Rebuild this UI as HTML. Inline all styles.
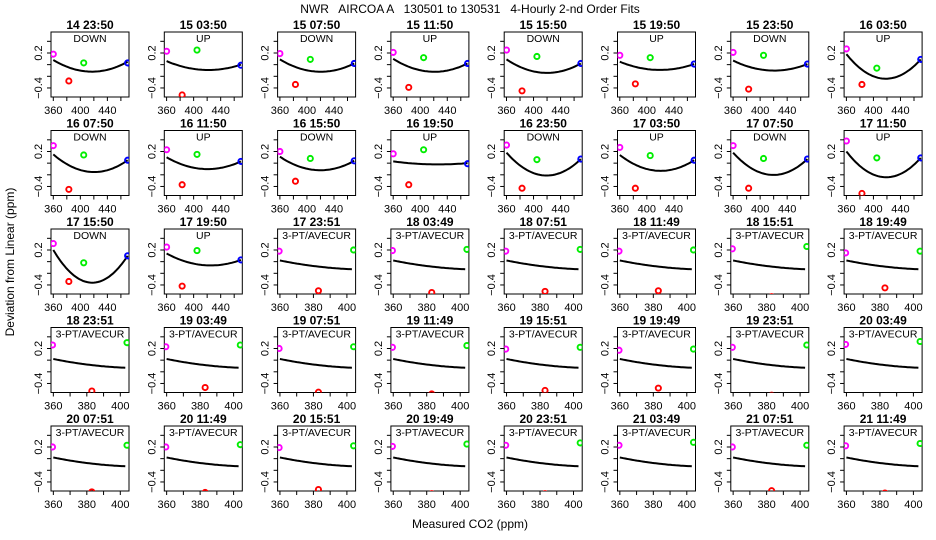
<!DOCTYPE html>
<html><head><meta charset="utf-8"><style>
html,body{margin:0;padding:0;background:#fff;}
svg{display:block;font-family:"Liberation Sans",sans-serif;}
</style></head><body>
<svg id="chart" width="936" height="540" viewBox="0 0 936 540" xmlns="http://www.w3.org/2000/svg">
<text x="470" y="13" font-size="12" text-anchor="middle" xml:space="preserve">NWR   AIRCOA A   130501 to 130531   4-Hourly 2-nd Order Fits</text>
<text x="0" y="0" font-size="12" text-anchor="middle" transform="translate(14,262) rotate(-90)">Deviation from Linear (ppm)</text>
<text x="470" y="528" font-size="12" text-anchor="middle">Measured CO2 (ppm)</text>
<g id="panels"></g>
</svg>
<script>
const titles = ["14 23:50","15 03:50","15 07:50","15 11:50","15 15:50","15 19:50","15 23:50","16 03:50",
"16 07:50","16 11:50","16 15:50","16 19:50","16 23:50","17 03:50","17 07:50","17 11:50",
"17 15:50","17 19:50","17 23:51","18 03:49","18 07:51","18 11:49","18 15:51","18 19:49",
"18 23:51","19 03:49","19 07:51","19 11:49","19 15:51","19 19:49","19 23:51","20 03:49",
"20 07:51","20 11:49","20 15:51","20 19:49","20 23:51","21 03:49","21 07:51","21 11:49"];
const modes = ["DOWN","UP","DOWN","UP","DOWN","UP","DOWN","UP",
"DOWN","UP","DOWN","UP","DOWN","UP","DOWN","UP",
"DOWN","UP","3-PT/AVECUR","3-PT/AVECUR","3-PT/AVECUR","3-PT/AVECUR","3-PT/AVECUR","3-PT/AVECUR",
"3-PT/AVECUR","3-PT/AVECUR","3-PT/AVECUR","3-PT/AVECUR","3-PT/AVECUR","3-PT/AVECUR","3-PT/AVECUR","3-PT/AVECUR",
"3-PT/AVECUR","3-PT/AVECUR","3-PT/AVECUR","3-PT/AVECUR","3-PT/AVECUR","3-PT/AVECUR","3-PT/AVECUR","3-PT/AVECUR"];
const magY = [0.18,0.23,0.19,0.21,0.25,0.16,0.21,0.27, 0.30,0.23,0.20,0.16,0.31,0.27,0.30,0.38, 0.31,0.25,0.18,0.19,0.18,0.18,0.22,0.15, 0.26,0.23,0.20,0.22,0.19,0.17,0.22,0.27, 0.20,0.20,0.19,0.21,0.23,0.23,0.20,0.22];
const redY = [-0.28,-0.52,-0.34,-0.39,-0.45,-0.33,-0.42,-0.34, -0.45,-0.37,-0.31,-0.37,-0.43,-0.43,-0.43,-0.52, -0.34,-0.42,-0.50,-0.53,-0.51,-0.50,-0.60,-0.45, -0.53,-0.47,-0.55,-0.58,-0.52,-0.48,-0.60,-0.70, -0.57,-0.58,-0.53,-0.60,-0.60,-0.70,-0.55,-0.59];
const grnY = [0.03,0.25,0.09,0.12,0.14,0.12,0.16,-0.06, 0.14,0.15,0.08,0.23,0.06,0.13,0.08,0.09, -0.02,0.19,0.20,0.21,0.21,0.20,0.26,0.18, 0.30,0.26,0.23,0.25,0.22,0.19,0.26,0.32, 0.23,0.24,0.22,0.25,0.27,0.28,0.23,0.26];
const bluY = [0.03,-0.01,0.02,0.02,0.02,0.01,0.01,0.09, 0.05,0.03,0.04,-0.01,0.07,0.05,0.07,0.09, 0.10,0.03,null,null,null,null,null,null, null,null,null,null,null,null,null,null, null,null,null,null,null,null,null,null];
const curveL = [0.08,0.06,0.09,0.10,0.09,0.05,0.07,0.18, 0.15,0.10,0.11,0.03,0.18,0.14,0.18,0.20, 0.20,0.14,0.02,0.02,0.02,0.02,0.02,0.02, 0.02,0.02,0.02,0.02,0.02,0.02,0.02,0.02, 0.02,0.02,0.02,0.02,0.02,0.02,0.02,0.02];
const curveM = [-0.12,-0.09,-0.12,-0.12,-0.14,-0.09,-0.10,-0.24, -0.15,-0.10,-0.12,-0.02,-0.21,-0.13,-0.20,-0.24, -0.36,-0.06,-0.08,-0.08,-0.08,-0.08,-0.08,-0.08, -0.08,-0.08,-0.08,-0.08,-0.08,-0.08,-0.08,-0.08, -0.08,-0.08,-0.08,-0.08,-0.08,-0.08,-0.08,-0.08];
const curveR = [0.05,0.00,0.02,0.02,0.02,0.01,0.01,0.09, 0.05,0.03,0.04,0.00,0.07,0.05,0.07,0.09, 0.10,0.03,-0.13,-0.13,-0.13,-0.13,-0.13,-0.13, -0.13,-0.13,-0.13,-0.13,-0.13,-0.13,-0.13,-0.13, -0.13,-0.13,-0.13,-0.13,-0.13,-0.13,-0.13,-0.13];
const quadX = [360,383,405,470];
const quadCurveX = [360,415,470];
const quadTicks = [360,380,400,420,440,460];
const quadLabels = [360,400,440];
const ptX = [359.5,383,404];
const ptCurveX = [360,381.5,403];
const ptTicks = [360,370,380,390,400];
const ptLabels = [360,380,400];
const yTicks = [0.4,0.2,0,-0.2,-0.4];
const yLabels = [0.2,-0.4];

const NS = "http://www.w3.org/2000/svg";
const root = document.getElementById('panels');
function mk(tag, attrs, parent){const e=document.createElementNS(NS,tag);for(const k in attrs)e.setAttribute(k,attrs[k]);parent.appendChild(e);return e;}
const BW=78, BH=65, YMAX=0.56, YMIN=-0.555;

titles.forEach((t,i)=>{
  const col=i%8, row=Math.floor(i/8);
  const L=51+col*113.3, T=32+row*98.5;
  const quad = bluY[i]!==null;
  const xmin = quad?356.6:358.6, xmax = quad?472:405.2;
  const sx = v=>L+(v-xmin)/(xmax-xmin)*BW;
  const sy = v=>T+(YMAX-v)/(YMAX-YMIN)*BH;
  const g=mk('g',{},root);
  
  
  const cp=mk('clipPath',{id:'cp'+i},g);
  mk('rect',{x:L,y:T,width:BW,height:BH},cp);
  const tt=mk('text',{x:L+BW/2,y:T-3,'font-size':12,'font-weight':'bold','text-anchor':'middle'},g);tt.textContent=t;
  
  
  const st=mk('text',{x:L+BW/2,y:T+10,'font-size':10.5,'text-anchor':'middle'},g);st.textContent=modes[i];
  
  
  const box=mk('rect',{x:L,y:T,width:BW,height:BH,fill:'none',stroke:'#000','stroke-width':1},g);
  
  
  yTicks.forEach(v=>{mk('line',{x1:L-4,x2:L,y1:sy(v),y2:sy(v),stroke:'#000'},g);});
  yLabels.forEach(v=>{const y=sy(v);const tx=mk('text',{x:0,y:0,'font-size':11,'text-anchor':'middle',transform:`translate(${L-9},${y}) rotate(-90)`},g);tx.textContent=String(v).replace('-','\u2212');
    
    });
  const ticks=quad?quadTicks:ptTicks, labs=quad?quadLabels:ptLabels;
  ticks.forEach(v=>{mk('line',{x1:sx(v),x2:sx(v),y1:T+BH,y2:T+BH+4,stroke:'#000'},g);});
  labs.forEach(v=>{const tx=mk('text',{x:sx(v),y:T+BH+17,'font-size':11,'text-anchor':'middle'},g);tx.textContent=v;
    
    });
  const cg=mk('g',{'clip-path':`url(#cp${i})`},g);
  const cx=quad?quadCurveX:ptCurveX, cy=[curveL[i],curveM[i],curveR[i]];
  const lag=x=>cy[0]*(x-cx[1])*(x-cx[2])/((cx[0]-cx[1])*(cx[0]-cx[2]))+cy[1]*(x-cx[0])*(x-cx[2])/((cx[1]-cx[0])*(cx[1]-cx[2]))+cy[2]*(x-cx[0])*(x-cx[1])/((cx[2]-cx[0])*(cx[2]-cx[1]));
  let d='';const n=40;
  for(let k=0;k<=n;k++){const x=cx[0]+(cx[2]-cx[0])*k/n;d+=(k?'L':'M')+sx(x).toFixed(1)+','+sy(lag(x)).toFixed(1);}
  const path=mk('path',{d:d,fill:'none',stroke:'#000','stroke-width':2},cg);
  
  
  const xs=quad?quadX:ptX;
  const pts=[[magY[i],'#ff00ff',xs[0],'point-magenta'],[redY[i],'#ff0000',xs[1],'point-red'],[grnY[i],'#00ee00',xs[2],'point-green']];
  if(quad) pts.push([bluY[i],'#0000ff',xs[3],'point-blue']);
  pts.forEach(p=>{const c=mk('circle',{cx:sx(p[2]),cy:sy(p[0]),r:2.6,fill:'none',stroke:p[1],'stroke-width':1.9},cg);
    
    });
});
</script>
</body></html>
